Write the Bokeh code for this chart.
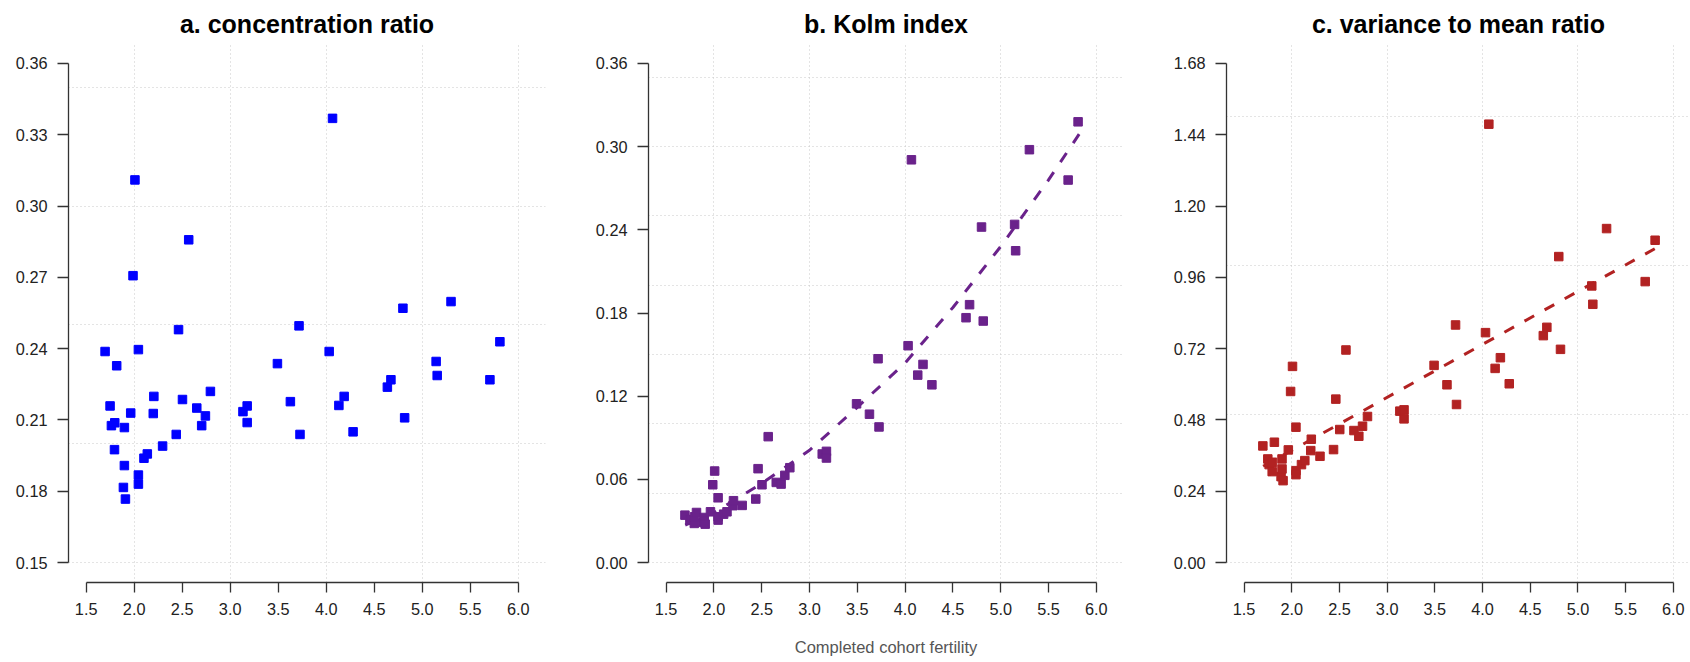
from bokeh.plotting import figure
from bokeh.layouts import row
from bokeh.models import FixedTicker, PrintfTickFormatter, Range1d
from bokeh.embed import file_html
from bokeh.resources import INLINE

# ---- data ----
fertility = [1.697, 1.749, 1.763, 1.795, 1.798, 1.818, 1.888, 1.898, 1.898, 1.909,
             1.964, 1.988, 2.008, 2.044, 2.044, 2.044, 2.102, 2.137, 2.199, 2.205,
             2.296, 2.438, 2.462, 2.503, 2.568, 2.652, 2.703, 2.742, 2.794, 3.133,
             3.177, 3.177, 3.492, 3.627, 3.717, 3.727, 4.031, 4.066, 4.132, 4.187,
             4.280, 4.637, 4.674, 4.799, 4.817, 5.145, 5.156, 5.300, 5.705, 5.809]

conc_ratio = [0.2388, 0.2159, 0.2076, 0.1975, 0.2088, 0.2328, 0.1816, 0.2068, 0.1908, 0.1767,
              0.2129, 0.2707, 0.3110, 0.2396, 0.1868, 0.1830, 0.1939, 0.1957, 0.2127, 0.2199,
              0.1990, 0.2039, 0.2480, 0.2186, 0.2858, 0.2150, 0.2076, 0.2117, 0.2220, 0.2135,
              0.2159, 0.2089, 0.2337, 0.2177, 0.2496, 0.2039, 0.2388, 0.3369, 0.2161, 0.2199,
              0.2050, 0.2238, 0.2269, 0.2570, 0.2109, 0.2346, 0.2287, 0.2598, 0.2269, 0.2429]

kolm = [0.0342, 0.0306, 0.0310, 0.0282, 0.0330, 0.0361, 0.0290, 0.0325, 0.0300, 0.0277,
        0.0366, 0.0561, 0.0660, 0.0467, 0.0306, 0.0330, 0.0349, 0.0366, 0.0410, 0.0446,
        0.0412, 0.0458, 0.0677, 0.0561, 0.0908, 0.0578, 0.0566, 0.0629, 0.0684, 0.0783,
        0.0802, 0.0754, 0.1145, 0.1070, 0.1470, 0.0978, 0.1564, 0.2905, 0.1352, 0.1429,
        0.1282, 0.1766, 0.1860, 0.2420, 0.1742, 0.2439, 0.2249, 0.2978, 0.2759, 0.3179]

vmr = [0.3926, 0.3487, 0.3296, 0.3060, 0.3375, 0.4050, 0.2891, 0.3487, 0.3150, 0.2756,
       0.3791, 0.5759, 0.6603, 0.4556, 0.3093, 0.2958, 0.3296, 0.3431, 0.3768, 0.4151,
       0.3577, 0.3802, 0.5501, 0.4477, 0.7155, 0.4443, 0.4252, 0.4589, 0.4916, 0.5096,
       0.5140, 0.4837, 0.6637, 0.5984, 0.7997, 0.5320, 0.7739, 1.4756, 0.6535, 0.6895,
       0.6018, 0.7638, 0.7918, 1.0299, 0.7177, 0.9311, 0.8693, 1.1242, 0.9457, 1.0849]

# fitted trend lines
kolm_fit_x = [1.70, 2.00, 2.50, 3.00, 3.50, 4.00, 4.50, 5.00, 5.50, 5.82]
kolm_fit_y = [0.027, 0.036, 0.057, 0.081, 0.112, 0.144, 0.184, 0.228, 0.276, 0.309]
vmr_fit_x = [1.70, 5.82]
vmr_fit_y = [0.324, 1.059]

# ticks / grid
x_ticks = [1.5, 2.0, 2.5, 3.0, 3.5, 4.0, 4.5, 5.0, 5.5, 6.0]
x_lim = [1.5, 6.1]
x_grid = [2, 3, 4, 5, 6]
conc_ticks = [0.15, 0.18, 0.21, 0.24, 0.27, 0.30, 0.33, 0.36]
conc_grid = [0.15, 0.20, 0.25, 0.30, 0.35]
kolm_ticks = [0.00, 0.06, 0.12, 0.18, 0.24, 0.30, 0.36]
kolm_grid = [0.00, 0.05, 0.10, 0.15, 0.20, 0.25, 0.30, 0.35]
vmr_ticks = [0.00, 0.24, 0.48, 0.72, 0.96, 1.20, 1.44, 1.68]
vmr_grid = [0.0, 0.5, 1.0, 1.5]

titles = ["a. concentration ratio", "b. Kolm index", "c. variance to mean ratio"]
x_label = "Completed cohort fertility"

FONT = "Liberation Sans"
FULL_FRAME = 477


def panel(title, yvals, color, y_ticks, y_grid, width, left, right, frame_w,
          fit=None, xlabel=None, title_offset=0):
    ylo, yhi = y_ticks[0], y_ticks[-1]
    ypad = 0.04 * (yhi - ylo)
    xlo, xhi = x_lim
    xpad = 0.04 * (xhi - xlo)
    xs = xlo - xpad
    xe_full = xhi + xpad
    xe = xs + (xe_full - xs) * frame_w / FULL_FRAME
    p = figure(width=width, height=662, output_backend="svg", toolbar_location=None,
               x_range=Range1d(xs, xe), y_range=Range1d(ylo - ypad, yhi + ypad),
               min_border_left=left, min_border_right=right,
               min_border_top=43, min_border_bottom=80, title=title)
    p.outline_line_color = None
    p.background_fill_color = "white"
    p.border_fill_color = "white"

    p.title.align = "center"
    p.title.text_font = FONT
    p.title.text_font_style = "bold"
    p.title.text_font_size = "25px"
    p.title.text_color = "#000000"
    p.title.standoff = 12
    p.title.offset = title_offset

    for ax, ticks, fmt, tick_out in ((p.xaxis[0], x_ticks, "%.1f", 10),
                                     (p.yaxis[0], y_ticks, "%.2f", 11)):
        ax.ticker = FixedTicker(ticks=ticks)
        ax.bounds = (ticks[0], ticks[-1])
        ax.formatter = PrintfTickFormatter(format=fmt)
        ax.axis_line_color = "#333333"
        ax.axis_line_width = 1.3
        ax.major_tick_line_color = "#333333"
        ax.major_tick_line_width = 1.3
        ax.major_tick_out = tick_out
        ax.major_tick_in = 0
        ax.minor_tick_line_color = None
        ax.major_label_text_font = FONT
        ax.major_label_text_font_size = "16.3px"
        ax.major_label_text_color = "#222222"
        ax.major_label_standoff = 10

    if xlabel:
        p.xaxis.axis_label = xlabel
        p.xaxis.axis_label_text_font = FONT
        p.xaxis.axis_label_text_font_style = "normal"
        p.xaxis.axis_label_text_font_size = "16.5px"
        p.xaxis.axis_label_text_color = "#555555"
        p.xaxis.axis_label_standoff = 20

    p.xgrid.ticker = FixedTicker(ticks=x_grid)
    p.ygrid.ticker = FixedTicker(ticks=y_grid)
    for g in (p.xgrid[0], p.ygrid[0]):
        g.grid_line_color = "#c8c8c8"
        g.grid_line_dash = "1 3"
        g.grid_line_width = 1

    if fit is not None:
        p.line(fit[0], fit[1], line_color=color, line_width=3, line_dash="11 12")
    p.scatter(fertility, yvals, marker="square", size=8.5,
              fill_color=color, line_color=color)
    return p


pa = panel(titles[0], conc_ratio, "#0000FF", conc_ticks, conc_grid,
           width=592, left=68, right=47, frame_w=477)
pb = panel(titles[1], kolm, "#6A228B", kolm_ticks, kolm_grid,
           width=578, left=54, right=47, frame_w=477,
           fit=(kolm_fit_x, kolm_fit_y), xlabel=x_label)
pc = panel(titles[2], vmr, "#B22222", vmr_ticks, vmr_grid,
           width=520, left=53, right=0, frame_w=467,
           fit=(vmr_fit_x, vmr_fit_y), title_offset=5)

layout = row(pa, pb, pc, spacing=0)
open("out.html", "w").write(file_html(layout, INLINE))
